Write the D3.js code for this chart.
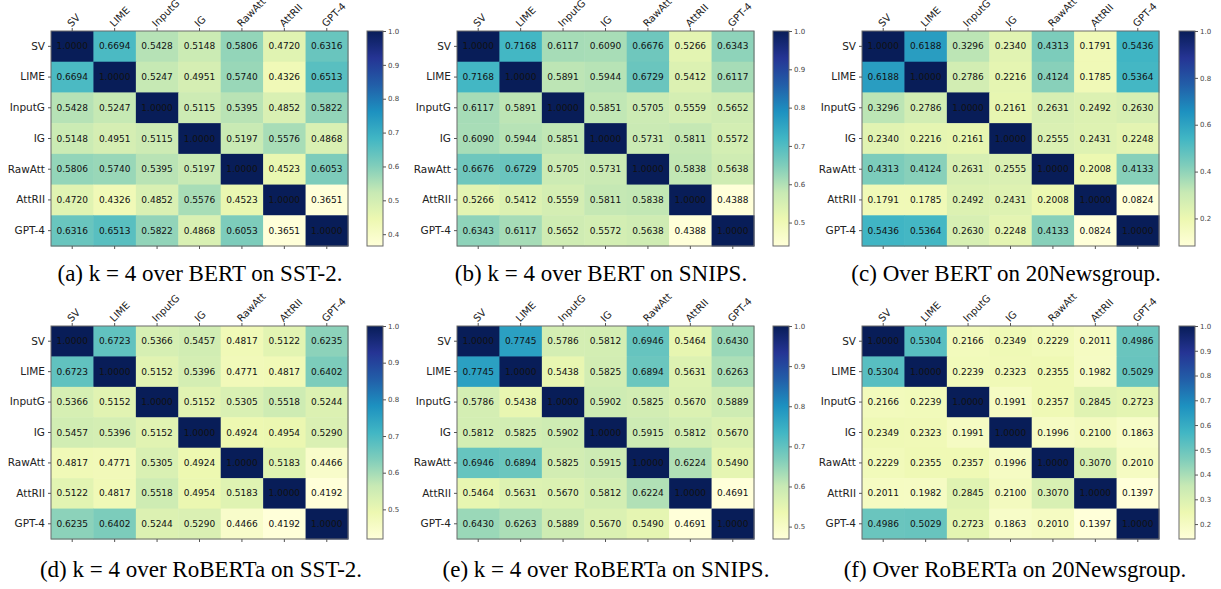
<!DOCTYPE html>
<html>
<head>
<meta charset="utf-8">
<script src="https://cdn.jsdelivr.net/npm/d3@7/dist/d3.min.js"></script>
<style>
  html, body { margin: 0; padding: 0; background: #fff; }
  svg { display: block; }
</style>
</head>
<body>
<svg id="chart" width="1221" height="589"></svg>
<script>
// ---------------- DATA ----------------
const methods = ["SV", "LIME", "InputG", "IG", "RawAtt", "AttRII", "GPT-4"];

const bertSst2 = [
  [1.0000, 0.6694, 0.5428, 0.5148, 0.5806, 0.4720, 0.6316],
  [0.6694, 1.0000, 0.5247, 0.4951, 0.5740, 0.4326, 0.6513],
  [0.5428, 0.5247, 1.0000, 0.5115, 0.5395, 0.4852, 0.5822],
  [0.5148, 0.4951, 0.5115, 1.0000, 0.5197, 0.5576, 0.4868],
  [0.5806, 0.5740, 0.5395, 0.5197, 1.0000, 0.4523, 0.6053],
  [0.4720, 0.4326, 0.4852, 0.5576, 0.4523, 1.0000, 0.3651],
  [0.6316, 0.6513, 0.5822, 0.4868, 0.6053, 0.3651, 1.0000]
];
const bertSnips = [
  [1.0000, 0.7168, 0.6117, 0.6090, 0.6676, 0.5266, 0.6343],
  [0.7168, 1.0000, 0.5891, 0.5944, 0.6729, 0.5412, 0.6117],
  [0.6117, 0.5891, 1.0000, 0.5851, 0.5705, 0.5559, 0.5652],
  [0.6090, 0.5944, 0.5851, 1.0000, 0.5731, 0.5811, 0.5572],
  [0.6676, 0.6729, 0.5705, 0.5731, 1.0000, 0.5838, 0.5638],
  [0.5266, 0.5412, 0.5559, 0.5811, 0.5838, 1.0000, 0.4388],
  [0.6343, 0.6117, 0.5652, 0.5572, 0.5638, 0.4388, 1.0000]
];
const bert20News = [
  [1.0000, 0.6188, 0.3296, 0.2340, 0.4313, 0.1791, 0.5436],
  [0.6188, 1.0000, 0.2786, 0.2216, 0.4124, 0.1785, 0.5364],
  [0.3296, 0.2786, 1.0000, 0.2161, 0.2631, 0.2492, 0.2630],
  [0.2340, 0.2216, 0.2161, 1.0000, 0.2555, 0.2431, 0.2248],
  [0.4313, 0.4124, 0.2631, 0.2555, 1.0000, 0.2008, 0.4133],
  [0.1791, 0.1785, 0.2492, 0.2431, 0.2008, 1.0000, 0.0824],
  [0.5436, 0.5364, 0.2630, 0.2248, 0.4133, 0.0824, 1.0000]
];
const robertaSst2 = [
  [1.0000, 0.6723, 0.5366, 0.5457, 0.4817, 0.5122, 0.6235],
  [0.6723, 1.0000, 0.5152, 0.5396, 0.4771, 0.4817, 0.6402],
  [0.5366, 0.5152, 1.0000, 0.5152, 0.5305, 0.5518, 0.5244],
  [0.5457, 0.5396, 0.5152, 1.0000, 0.4924, 0.4954, 0.5290],
  [0.4817, 0.4771, 0.5305, 0.4924, 1.0000, 0.5183, 0.4466],
  [0.5122, 0.4817, 0.5518, 0.4954, 0.5183, 1.0000, 0.4192],
  [0.6235, 0.6402, 0.5244, 0.5290, 0.4466, 0.4192, 1.0000]
];
const robertaSnips = [
  [1.0000, 0.7745, 0.5786, 0.5812, 0.6946, 0.5464, 0.6430],
  [0.7745, 1.0000, 0.5438, 0.5825, 0.6894, 0.5631, 0.6263],
  [0.5786, 0.5438, 1.0000, 0.5902, 0.5825, 0.5670, 0.5889],
  [0.5812, 0.5825, 0.5902, 1.0000, 0.5915, 0.5812, 0.5670],
  [0.6946, 0.6894, 0.5825, 0.5915, 1.0000, 0.6224, 0.5490],
  [0.5464, 0.5631, 0.5670, 0.5812, 0.6224, 1.0000, 0.4691],
  [0.6430, 0.6263, 0.5889, 0.5670, 0.5490, 0.4691, 1.0000]
];
const roberta20News = [
  [1.0000, 0.5304, 0.2166, 0.2349, 0.2229, 0.2011, 0.4986],
  [0.5304, 1.0000, 0.2239, 0.2323, 0.2355, 0.1982, 0.5029],
  [0.2166, 0.2239, 1.0000, 0.1991, 0.2357, 0.2845, 0.2723],
  [0.2349, 0.2323, 0.1991, 1.0000, 0.1996, 0.2100, 0.1863],
  [0.2229, 0.2355, 0.2357, 0.1996, 1.0000, 0.3070, 0.2010],
  [0.2011, 0.1982, 0.2845, 0.2100, 0.3070, 1.0000, 0.1397],
  [0.4986, 0.5029, 0.2723, 0.1863, 0.2010, 0.1397, 1.0000]
];

const colorbarTicks = [
  [0.4, 0.5, 0.6, 0.7, 0.8, 0.9, 1.0],
  [0.5, 0.6, 0.7, 0.8, 0.9, 1.0],
  [0.2, 0.4, 0.6, 0.8, 1.0],
  [0.5, 0.6, 0.7, 0.8, 0.9, 1.0],
  [0.5, 0.6, 0.7, 0.8, 0.9, 1.0],
  [0.2, 0.3, 0.4, 0.5, 0.6, 0.7, 0.8, 0.9, 1.0]
];

const captions = [
  "(a) k = 4 over BERT on SST-2.",
  "(b) k = 4 over BERT on SNIPS.",
  "(c) Over BERT on 20Newsgroup.",
  "(d) k = 4 over RoBERTa on SST-2.",
  "(e) k = 4 over RoBERTa on SNIPS.",
  "(f) Over RoBERTa on 20Newsgroup."
];

const matrices = [bertSst2, bertSnips, bert20News, robertaSst2, robertaSnips, roberta20News];

// YlGnBu (ColorBrewer 9-class, as in matplotlib)
const ylgnbu = ["#ffffd9","#edf8b1","#c7e9b4","#7fcdbb","#41b6c4","#1d91c0","#225ea8","#253494","#081d58"];

// ---------------- LAYOUT ----------------
const colX = [51, 457, 862];        // heatmap left edges
const cbX = [367, 773, 1179];       // colorbar left edges
const rowY = [[31, 246], [326, 539]]; // heatmap top/bottom
const hmW = 297, cbW = 16;
const captionCenters = [[200, 601, 1006], [201, 606, 1015]];
const captionBaselines = [281, 577];

const svg = d3.select("#chart");
svg.append("rect").attr("width", 1221).attr("height", 589).attr("fill", "#fff");

const sans = "DejaVu Sans, sans-serif";
let gradId = 0;

matrices.forEach((mat, idx) => {
  const c = idx % 3, r = Math.floor(idx / 3);
  const x0 = colX[c], y0 = rowY[r][0], y1 = rowY[r][1];
  const flat = mat.flat();
  const vmin = d3.min(flat), vmax = d3.max(flat);

  const x = d3.scaleBand().domain(methods).range([x0, x0 + hmW]);
  const y = d3.scaleBand().domain(methods).range([y0, y1]);
  const color = d3.scaleLinear()
    .domain(d3.range(9).map(i => vmin + i * (vmax - vmin) / 8))
    .range(ylgnbu)
    .interpolate(d3.interpolateRgb)
    .clamp(true);

  const g = svg.append("g");

  const cells = [];
  mat.forEach((row, i) => row.forEach((v, j) => cells.push({ i, j, v })));

  g.selectAll("rect.cell").data(cells).enter().append("rect")
    .attr("class", "cell")
    .attr("x", d => x(methods[d.j]))
    .attr("y", d => y(methods[d.i]))
    .attr("width", x.bandwidth() + 0.5)
    .attr("height", y.bandwidth() + 0.5)
    .attr("fill", d => color(d.v));

  g.selectAll("text.val").data(cells).enter().append("text")
    .attr("class", "val")
    .attr("x", d => x(methods[d.j]) + x.bandwidth() / 2)
    .attr("y", d => y(methods[d.i]) + y.bandwidth() / 2)
    .attr("text-anchor", "middle")
    .attr("dominant-baseline", "central")
    .attr("font-family", sans)
    .attr("font-size", 9)
    .attr("fill", "#111")
    .text(d => d.v.toFixed(4));

  // border
  g.append("rect")
    .attr("x", x0).attr("y", y0).attr("width", hmW).attr("height", y1 - y0)
    .attr("fill", "none").attr("stroke", "#6b6b6b").attr("stroke-width", 1);

  // left axis
  const ya = g.append("g").attr("transform", `translate(${x0},0)`)
    .call(d3.axisLeft(y).tickSize(3).tickPadding(3));
  ya.select(".domain").remove();
  ya.selectAll("line").attr("stroke", "#555");
  ya.selectAll("text").attr("font-family", sans).attr("font-size", 10.5).attr("fill", "#222");

  // bottom ticks (no labels)
  const xb = g.append("g").attr("transform", `translate(0,${y1})`)
    .call(d3.axisBottom(x).tickSize(3).tickFormat(""));
  xb.select(".domain").remove();
  xb.selectAll("line").attr("stroke", "#555");

  // top axis with rotated labels
  const xt = g.append("g").attr("transform", `translate(0,${y0})`)
    .call(d3.axisTop(x).tickSize(3).tickPadding(2));
  xt.select(".domain").remove();
  xt.selectAll("line").attr("stroke", "#555");
  xt.selectAll("text")
    .attr("font-family", sans).attr("font-size", 10).attr("fill", "#222")
    .attr("text-anchor", "start")
    .attr("x", 0).attr("y", -3).attr("dy", 0)
    .attr("transform", "rotate(-45) translate(2,0)");

  // colorbar
  const id = "cbgrad" + (gradId++);
  const grad = svg.append("defs").append("linearGradient").attr("id", id)
    .attr("x1", 0).attr("y1", 1).attr("x2", 0).attr("y2", 0);
  ylgnbu.forEach((col, k) => grad.append("stop").attr("offset", k / 8).attr("stop-color", col));

  const cbx = cbX[c];
  g.append("rect").attr("x", cbx).attr("y", y0).attr("width", cbW).attr("height", y1 - y0)
    .attr("fill", `url(#${id})`).attr("stroke", "#6b6b6b").attr("stroke-width", 1);

  const cy = d3.scaleLinear().domain([vmin, vmax]).range([y1, y0]);
  const ca = g.append("g").attr("transform", `translate(${cbx + cbW},0)`)
    .call(d3.axisRight(cy).tickValues(colorbarTicks[idx]).tickSize(3).tickPadding(2).tickFormat(d3.format(".1f")));
  ca.select(".domain").remove();
  ca.selectAll("line").attr("stroke", "#555");
  ca.selectAll("text").attr("font-family", sans).attr("font-size", 7).attr("fill", "#444");

  // caption
  svg.append("text")
    .attr("x", captionCenters[r][c]).attr("y", captionBaselines[r])
    .attr("text-anchor", "middle")
    .attr("font-family", "Liberation Serif, Times New Roman, serif")
    .attr("font-size", 23)
    .attr("fill", "#000")
    .text(captions[idx]);
});
</script>
</body>
</html>
